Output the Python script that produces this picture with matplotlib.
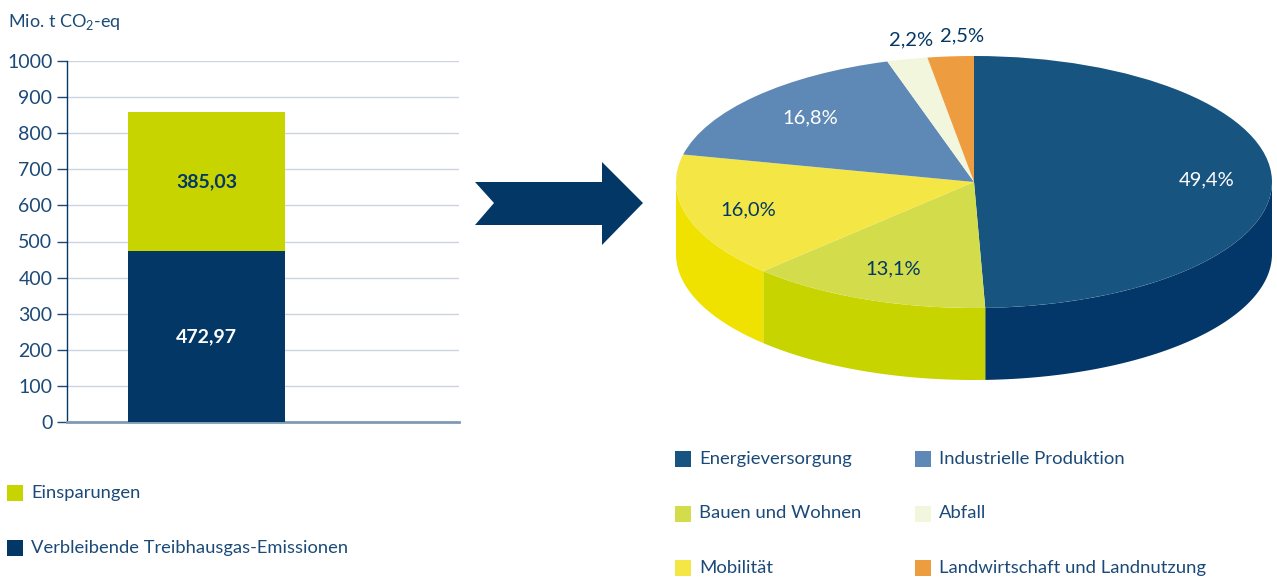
import numpy as np
import matplotlib.pyplot as plt
from matplotlib.patches import Wedge, Polygon, Rectangle

plt.rcParams['font.family'] = ['Lato', 'DejaVu Sans']
plt.rcParams['mathtext.fontset'] = 'custom'
plt.rcParams['mathtext.rm'] = 'Lato'

# Daten
bar_series = ['Einsparungen', 'Verbleibende Treibhausgas-Emissionen']
remaining = [472.97]
savings = [385.03]
yticks = list(range(0, 1001, 100))

sectors = ['Energieversorgung', 'Bauen und Wohnen', 'Mobilität',
           'Industrielle Produktion', 'Abfall', 'Landwirtschaft und Landnutzung']
shares = [49.4, 13.1, 16.0, 16.8, 2.2, 2.5]

# Farben
NAVY = '#033866'
GREEN = '#c8d400'
TXT = '#1b4a78'
top_colors = ['#185480', '#d3dc4b', '#f4e745', '#5e89b6', '#f2f6dc', '#ee9c40']
side_colors = ['#03376a', '#c8d400', '#f0e200', '#4a73a0', '#e0e6c4', '#d9852a']
label_colors = ['white', NAVY, NAVY, 'white', NAVY, NAVY]

W, H = 1277, 579
fig = plt.figure(figsize=(W / 100, H / 100), dpi=100)

# Hintergrund-Achse in Pixelkoordinaten (Pfeil, Legenden, Titel)
bg = fig.add_axes([0, 0, 1, 1])
bg.set_xlim(0, W)
bg.set_ylim(H, 0)
bg.axis('off')

# --- Balkendiagramm ---
ax = fig.add_axes([67 / W, 157 / H, 392 / W, 361 / H])
ax.set_xlim(-0.89, 1.61)
ax.set_ylim(0, 1000)
b1 = ax.bar([0], remaining, width=1.0, color=NAVY, zorder=3)
b2 = ax.bar([0], savings, bottom=remaining, width=1.0, color=GREEN, zorder=3)
ax.bar_label(b1, labels=[f'{v:.2f}'.replace('.', ',') for v in remaining],
             label_type='center', color='white', fontsize=14, fontweight='bold')
ax.bar_label(b2, labels=[f'{v:.2f}'.replace('.', ',') for v in savings],
             label_type='center', color=NAVY, fontsize=14, fontweight='bold')

ax.set_yticks(yticks)
ax.set_xticks([])
ax.yaxis.grid(True, color='#cbd4e0', lw=1)
ax.set_axisbelow(True)
for s in ['top', 'right']:
    ax.spines[s].set_visible(False)
ax.spines['left'].set_color(NAVY)
ax.spines['left'].set_linewidth(1.0)
ax.spines['bottom'].set_color('#7f9ab3')
ax.spines['bottom'].set_linewidth(2)
ax.tick_params(axis='y', length=7.5, width=1, color=TXT, labelcolor=TXT,
               labelsize=14, pad=3)

bg.text(8, 22, 'Mio. t CO$_2$-eq', color=TXT, fontsize=13, va='center', ha='left')

# Pfeil
arrow = [(475, 182), (494, 203), (475, 225), (602, 225), (602, 245),
         (643, 203), (602, 162), (602, 182)]
bg.add_patch(Polygon(arrow, closed=True, color=NAVY, lw=0))

# --- 3D-Torte ---
pax = fig.add_axes([674 / W, (H - 400) / H, 600 / W, 360 / H])
pax.set_xlim(-300 / 298, 300 / 298)
pax.set_ylim(-218 / 126, 142 / 126)
pax.axis('off')

depth = 72 / 126
cum = np.concatenate([[0], np.cumsum(shares)])
t_start = 90 - 360 * cum[:-1] / 100
t_end = 90 - 360 * cum[1:] / 100

for i in range(len(shares)):
    # Seitenwand (nur vorderer Teil sichtbar)
    t = np.radians(np.linspace(t_end[i], t_start[i], 200))
    vis = np.sin(t) <= 0
    if vis.sum() > 1:
        tv = t[vis]
        xs, ys = np.cos(tv), np.sin(tv)
        pts = np.column_stack([np.concatenate([xs, xs[::-1]]),
                               np.concatenate([ys, ys[::-1] - depth])])
        pax.add_patch(Polygon(pts, closed=True, color=side_colors[i], lw=0, zorder=1))
    # Oberseite
    pax.add_patch(Wedge((0, 0), 1, t_end[i], t_start[i], color=top_colors[i],
                        lw=0, zorder=2))

label_r = [0.78, 0.74, 0.79, 0.75, 1.16, 1.16]
for i, v in enumerate(shares):
    mid = np.radians((t_start[i] + t_end[i]) / 2)
    x, y = label_r[i] * np.cos(mid), label_r[i] * np.sin(mid)
    if label_r[i] > 1:
        x += 0.05
    pax.text(x, y, f'{v:.1f}%'.replace('.', ','), color=label_colors[i],
             fontsize=14.5, ha='center', va='center', zorder=3)

# --- Legenden ---
left_legend_colors = [GREEN, NAVY]
for k, (lab, col) in enumerate(zip(bar_series, left_legend_colors)):
    yc = 493 + k * 55
    bg.add_patch(Rectangle((7, yc - 8), 16, 16, color=col, lw=0))
    bg.text(31, yc, lab, color=TXT, fontsize=13.2, va='center', ha='left')

for i, (lab, col) in enumerate(zip(sectors, top_colors)):
    col_x = 675 if i < 3 else 915
    yc = 459 + (i % 3) * 54.5
    bg.add_patch(Rectangle((col_x, yc - 8), 16, 16, color=col, lw=0))
    bg.text(col_x + 24, yc, lab, color=TXT, fontsize=13.3, va='center', ha='left')

fig.savefig('out.png', dpi=100)
